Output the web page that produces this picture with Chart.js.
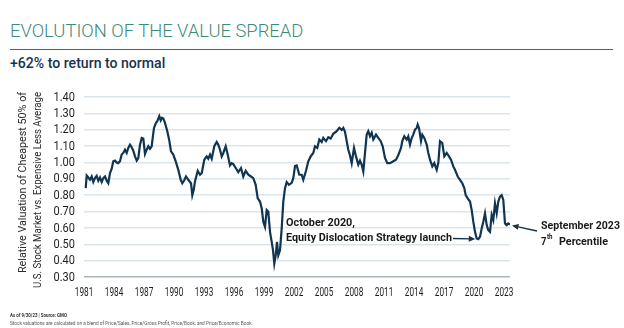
<!DOCTYPE html>
<html>
<head>
<meta charset="utf-8">
<script src="https://cdn.jsdelivr.net/npm/chart.js@4.4.0/dist/chart.umd.min.js"></script>
<style>
  html, body { margin: 0; padding: 0; background: #fff; }
  #wrap { position: relative; width: 624px; height: 328px; overflow: hidden; font-family: Roboto, 'Noto Sans', sans-serif; }
  .fit { position: absolute; white-space: nowrap; transform-origin: 0 50%; line-height: 1; }
  #title { left: 10px; top: 22px; font-size: 18.5px; font-weight: 300; color: #3e8b7b; }
  #rule { position: absolute; left: 10px; top: 48.5px; width: 603px; height: 1.3px; background: #46666f; }
  #subtitle { left: 10px; top: 56px; font-size: 14px; font-weight: 500; color: #17324d; }
  #note1 { left: 10px; top: 313px; font-size: 5.5px; font-weight: bold; color: #333; }
  #note2 { left: 10px; top: 321px; font-size: 5.5px; color: #555; }
  canvas { position: absolute; left: 0; top: 0; }
</style>
</head>
<body>
<div id="wrap">
  <div id="title" class="fit" data-w="293">EVOLUTION OF THE VALUE SPREAD</div>
  <div id="rule"></div>
  <div id="subtitle" class="fit" data-w="155">+62% to return to normal</div>
  <canvas id="chart" width="624" height="328"></canvas>
  <div id="note1" class="fit" data-w="57">As of 9/30/23 | Source: GMO</div>
  <div id="note2" class="fit" data-w="243">Stock valuations are calculated on a blend of Price/Sales, Price/Gross Profit, Price/Book, and Price/Economic Book.</div>
</div>
<script>
// value spread (year, relative valuation)
const years = [
  1981.17, 1981.27, 1981.43, 1981.6, 1981.77, 1981.93, 1982.1, 1982.27, 1982.43, 1982.6, 1982.77, 1982.93,
  1983.1, 1983.27, 1983.43, 1983.6, 1983.77, 1983.93, 1984.1, 1984.27, 1984.43, 1984.6, 1984.77, 1984.93,
  1985.1, 1985.27, 1985.43, 1985.6, 1985.77, 1985.93, 1986.1, 1986.27, 1986.43, 1986.6, 1986.77, 1986.93,
  1987.1, 1987.27, 1987.43, 1987.6, 1987.77, 1987.87, 1988.0, 1988.2, 1988.33, 1988.53, 1988.67, 1988.8,
  1988.93, 1989.1, 1989.33, 1989.53, 1989.7, 1989.93, 1990.17, 1990.43, 1990.67, 1990.83, 1991.0, 1991.2,
  1991.43, 1991.7, 1991.83, 1991.97, 1992.1, 1992.37, 1992.6, 1992.77, 1993.03, 1993.27, 1993.43, 1993.6,
  1993.77, 1994.03, 1994.27, 1994.43, 1994.6, 1994.77, 1994.93, 1995.17, 1995.37, 1995.6, 1995.77, 1995.93,
  1996.17, 1996.43, 1996.7, 1996.93, 1997.17, 1997.43, 1997.7, 1997.93, 1998.17, 1998.37, 1998.6, 1998.77,
  1998.93, 1999.1, 1999.27, 1999.43, 1999.6, 1999.77, 1999.9, 2000.03, 2000.17, 2000.3, 2000.43, 2000.6,
  2000.77, 2000.93, 2001.1, 2001.27, 2001.5, 2001.77, 2001.93, 2002.1, 2002.27, 2002.53, 2002.77, 2002.93,
  2003.2, 2003.43, 2003.67, 2003.93, 2004.1, 2004.33, 2004.53, 2004.77, 2004.93, 2005.2, 2005.43, 2005.67,
  2005.93, 2006.27, 2006.53, 2006.77, 2006.93, 2007.1, 2007.27, 2007.43, 2007.6, 2007.77, 2008.0, 2008.2,
  2008.43, 2008.6, 2008.77, 2008.93, 2009.1, 2009.27, 2009.43, 2009.6, 2009.77, 2009.93, 2010.2, 2010.43,
  2010.67, 2010.87, 2011.1, 2011.33, 2011.6, 2011.93, 2012.2, 2012.43, 2012.7, 2012.83, 2013.03, 2013.27,
  2013.43, 2013.6, 2013.77, 2013.93, 2014.1, 2014.27, 2014.37, 2014.5, 2014.7, 2014.83, 2015.03, 2015.27,
  2015.43, 2015.6, 2015.83, 2016.03, 2016.27, 2016.43, 2016.6, 2016.83, 2017.03, 2017.27, 2017.5, 2017.7,
  2017.93, 2018.1, 2018.37, 2018.6, 2018.83, 2019.03, 2019.17, 2019.37, 2019.6, 2019.77, 2019.93, 2020.1,
  2020.27, 2020.43, 2020.6, 2020.77, 2020.93, 2021.1, 2021.27, 2021.43, 2021.6, 2021.77, 2021.93, 2022.1,
  2022.27, 2022.43, 2022.6, 2022.77, 2022.93, 2023.1, 2023.27, 2023.43, 2023.6
];
const spread = [
  0.843, 0.92, 0.908, 0.894, 0.914, 0.88, 0.904, 0.918, 0.888, 0.908, 0.88, 0.904,
  0.914, 0.888, 0.873, 0.935, 0.962, 1.007, 1.011, 1.0, 0.996, 1.007, 1.048, 1.058,
  1.078, 1.058, 1.089, 1.109, 1.093, 1.072, 1.037, 1.011, 1.027, 1.109, 1.15, 1.146,
  1.052, 1.078, 1.099, 1.084, 1.099, 1.15, 1.211, 1.242, 1.252, 1.283, 1.257, 1.273,
  1.269, 1.242, 1.191, 1.134, 1.068, 1.048, 1.007, 0.955, 0.894, 0.873, 0.888, 0.914,
  0.894, 0.873, 0.80, 0.832, 0.884, 0.949, 0.925, 0.935, 1.017, 1.037, 1.023, 1.048,
  1.023, 1.099, 1.125, 1.109, 1.078, 1.037, 1.058, 1.099, 1.048, 0.982, 0.996, 0.99,
  0.966, 0.941, 0.966, 0.914, 0.949, 0.925, 0.914, 0.904, 0.863, 0.781, 0.761, 0.72,
  0.638, 0.607, 0.709, 0.699, 0.576, 0.515, 0.464, 0.382, 0.433, 0.515, 0.433, 0.464,
  0.597, 0.761, 0.843, 0.88, 0.863, 0.875, 0.904, 0.978, 0.982, 0.925, 0.925, 0.894,
  0.949, 1.007, 1.037, 1.058, 1.099, 1.089, 1.14, 1.125, 1.15, 1.13, 1.154, 1.146,
  1.175, 1.191, 1.211, 1.199, 1.211, 1.187, 1.13, 1.078, 1.043, 0.996, 1.089, 1.037,
  0.986, 1.011, 0.986, 0.945, 1.058, 1.17, 1.191, 1.16, 1.181, 1.14, 1.17, 1.15,
  1.13, 1.099, 1.027, 0.996, 0.996, 1.007, 1.017, 1.045, 1.089, 1.13, 1.16, 1.14,
  1.16, 1.109, 1.15, 1.17, 1.201, 1.211, 1.232, 1.211, 1.13, 1.17, 1.15, 1.109,
  1.058, 1.017, 0.976, 0.996, 0.955, 0.996, 1.13, 1.119, 1.037, 1.058, 1.037, 1.017,
  0.976, 0.955, 0.914, 0.894, 0.873, 0.843, 0.80, 0.781, 0.761, 0.709, 0.638, 0.576,
  0.535, 0.531, 0.545, 0.597, 0.638, 0.689, 0.617, 0.586, 0.576, 0.679, 0.648, 0.75,
  0.689, 0.761, 0.791, 0.80, 0.771, 0.627, 0.617, 0.627, 0.621
];
const xTickLabels = ['1981', '1984', '1987', '1990', '1993', '1996', '1999', '2002', '2005', '2008', '2011', '2014', '2017', '2020', '2023'];
const yTickLabels = ['0.30', '0.40', '0.50', '0.60', '0.70', '0.80', '0.90', '1.00', '1.10', '1.20', '1.30', '1.40'];
const yTitle = ['Relative Valuation of Cheapest 50% of', 'U.S. Stock Market vs. Expensive Less Average'];

const FONT = "Roboto, 'Noto Sans', sans-serif";

// squeeze html text to the width it has in the original
document.querySelectorAll('.fit').forEach(el => {
  const s = parseFloat(el.dataset.w) / el.offsetWidth;
  el.style.transform = 'scaleX(' + s + ')';
});

// draw text squeezed to a given width
function fitText(ctx, text, x, y, w, align) {
  const s = w / ctx.measureText(text).width;
  ctx.save();
  ctx.translate(x, y);
  ctx.scale(s, 1);
  ctx.textAlign = align;
  ctx.fillText(text, 0, 0);
  ctx.restore();
}

function arrow(ctx, x0, y0, x1, y1) {
  const a = Math.atan2(y1 - y0, x1 - x0);
  ctx.beginPath();
  ctx.moveTo(x0, y0);
  ctx.lineTo(x1 - 4 * Math.cos(a), y1 - 4 * Math.sin(a));
  ctx.stroke();
  ctx.beginPath();
  ctx.moveTo(x1, y1);
  ctx.lineTo(x1 - 6.5 * Math.cos(a) + 3 * Math.sin(a), y1 - 6.5 * Math.sin(a) - 3 * Math.cos(a));
  ctx.lineTo(x1 - 6.5 * Math.cos(a) - 3 * Math.sin(a), y1 - 6.5 * Math.sin(a) + 3 * Math.cos(a));
  ctx.closePath();
  ctx.fill();
}

// tick labels, axis title and the two callouts
const extras = {
  id: 'extras',
  afterDraw(chart) {
    const ctx = chart.ctx;
    const xs = chart.scales.x, ys = chart.scales.y;
    ctx.save();
    ctx.textBaseline = 'middle';

    // tick labels in a narrow face
    ctx.fillStyle = '#1e1e1e';
    ctx.font = '12.5px ' + FONT;
    const sx = 18.5 / ctx.measureText('1981').width;
    xTickLabels.forEach(t => {
      const w = ctx.measureText(t).width * sx;
      fitText(ctx, t, xs.getPixelForValue(+t), 292.5, w, 'center');
    });
    const sy = 21.5 / ctx.measureText('1.40').width;
    yTickLabels.forEach(t => {
      const w = ctx.measureText(t).width * sy;
      fitText(ctx, t, 75, ys.getPixelForValue(+t) + 0.5, w, 'right');
    });

    // rotated axis title, both lines end at the top
    ctx.fillStyle = '#2b2b2b';
    ctx.font = '11.5px ' + FONT;
    [[23.5, 181], [38, 196]].forEach((p, i) => {
      ctx.save();
      ctx.translate(p[0], 92);
      ctx.rotate(-Math.PI / 2);
      fitText(ctx, yTitle[i], 0, 0, p[1], 'right');
      ctx.restore();
    });

    ctx.fillStyle = '#1a1a1a';
    ctx.strokeStyle = '#17324d';
    ctx.lineWidth = 1.4;
    ctx.font = 'bold 11.5px ' + FONT;

    // October 2020 launch
    fitText(ctx, 'October 2020,', 286, 223, 69, 'left');
    fitText(ctx, 'Equity Dislocation Strategy launch', 286, 238.5, 166, 'left');
    ctx.fillStyle = '#17324d';
    arrow(ctx, 453, 238.5, xs.getPixelForValue(2020.43) - 3, 239);

    // September 2023
    ctx.fillStyle = '#1a1a1a';
    fitText(ctx, 'September 2023', 541, 226.5, 79, 'left');
    fitText(ctx, '7', 541, 242, 5.5, 'left');
    ctx.font = 'bold 7px ' + FONT;
    fitText(ctx, 'th', 547, 237.5, 5.5, 'left');
    ctx.font = 'bold 11.5px ' + FONT;
    fitText(ctx, 'Percentile', 559, 242, 49, 'left');
    ctx.fillStyle = '#17324d';
    arrow(ctx, 537, 231, xs.getPixelForValue(2023.6) + 2, ys.getPixelForValue(0.621) + 1);

    ctx.restore();
  }
};

new Chart(document.getElementById('chart'), {
  type: 'line',
  data: {
    datasets: [{
      data: years.map((y, i) => ({ x: y, y: spread[i] })),
      borderColor: '#0f3553',
      borderWidth: 2.2,
      pointRadius: 0,
      tension: 0
    }]
  },
  options: {
    responsive: false,
    animation: false,
    layout: { padding: { top: 97, right: 114, left: 0, bottom: 0 } },
    plugins: { legend: { display: false }, tooltip: { enabled: false } },
    scales: {
      x: {
        type: 'linear',
        min: 1981,
        max: 2023.6,
        afterBuildTicks: (s) => { s.ticks = xTickLabels.map(v => ({ value: +v })); },
        afterFit: (s) => { s.height = 51; },
        ticks: { display: false },
        grid: { display: false },
        border: { display: false }
      },
      y: {
        min: 0.3,
        max: 1.4,
        afterBuildTicks: (s) => { s.ticks = yTickLabels.map(v => ({ value: +v })); },
        afterFit: (s) => { s.width = 84; },
        ticks: { display: false },
        grid: {
          drawTicks: false,
          lineWidth: 1.5,
          color: (c) => (c.tick && Math.abs(c.tick.value - 0.3) < 1e-6) ? '#aab4bc' : '#dbe5ec'
        },
        border: { display: false }
      }
    }
  },
  plugins: [extras]
});
</script>
</body>
</html>
